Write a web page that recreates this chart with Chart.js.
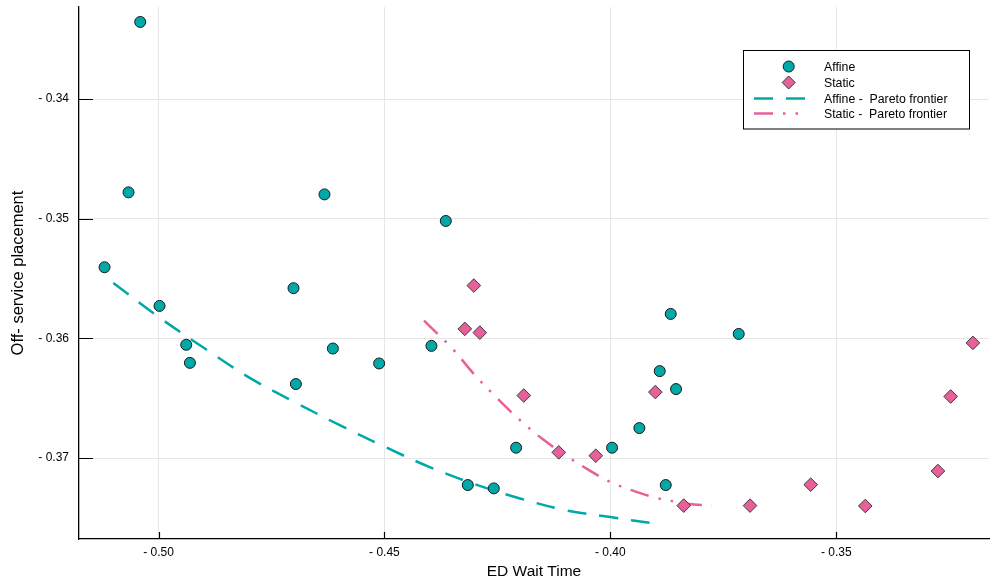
<!DOCTYPE html>
<html>
<head>
<meta charset="utf-8">
<script src="https://cdn.jsdelivr.net/npm/chart.js@4.4.0/dist/chart.umd.min.js"></script>
<style>
  html, body { margin: 0; padding: 0; background: #fff; }
  #wrap { width: 990px; height: 581px; }
</style>
</head>
<body>
<div id="wrap"><canvas id="paretoChart"></canvas></div>
<script>
// Affine policy results
const affineX = [-0.50405, -0.50664, -0.51195, -0.49978, -0.49387, -0.49305, -0.46327, -0.47013,
  -0.46142, -0.46960, -0.45117, -0.43642, -0.43960, -0.42086, -0.43155, -0.42580, -0.39962,
  -0.39358, -0.38907, -0.38664, -0.38546, -0.38774, -0.37159];
const affineY = [-0.33355, -0.34779, -0.35405, -0.35728, -0.36053, -0.36204, -0.34796, -0.35580,
  -0.36084, -0.36381, -0.36209, -0.35018, -0.36062, -0.36913, -0.37225, -0.37253, -0.36913,
  -0.36749, -0.36273, -0.35795, -0.36423, -0.37225, -0.35962];

// Static policy results
const staticX = [-0.43022, -0.43221, -0.42889, -0.41916, -0.41142, -0.40323, -0.39004, -0.38376,
  -0.36909, -0.35566, -0.34358, -0.32750, -0.32469, -0.31976];
const staticY = [-0.35558, -0.35920, -0.35951, -0.36477, -0.36952, -0.36980, -0.36448, -0.37397,
  -0.37397, -0.37222, -0.37400, -0.37108, -0.36485, -0.36037];

// Pareto frontiers
const affineFrontX = [-0.510, -0.500, -0.490, -0.480, -0.470, -0.460, -0.450, -0.440, -0.430,
  -0.420, -0.410, -0.400, -0.390];
const affineFrontY = [-0.35536, -0.35820, -0.36078, -0.36325, -0.36529, -0.36723, -0.36904,
  -0.37075, -0.37218, -0.37337, -0.37435, -0.37493, -0.37548];
const staticFrontX = [-0.44125, -0.435, -0.430, -0.425, -0.420, -0.415, -0.410, -0.405, -0.400,
  -0.395, -0.390, -0.385, -0.380, -0.3775];
const staticFrontY = [-0.35851, -0.36084, -0.36306, -0.36502, -0.36683, -0.36841, -0.36975,
  -0.37094, -0.37200, -0.37272, -0.37331, -0.37368, -0.37392, -0.37395];

const xTicks = [-0.50, -0.45, -0.40, -0.35];
const yTicks = [-0.37, -0.36, -0.35, -0.34];

const teal = '#00a8a8';
const pink = '#e8609a';

function pts(xs, ys) {
  return xs.map((x, i) => ({ x: x, y: ys[i] }));
}

function fmt(v) {
  return '- ' + Math.abs(v).toFixed(2);
}

// ticks point inward from the axes
const innerTicks = {
  id: 'innerTicks',
  afterDraw(chart) {
    const ctx = chart.ctx;
    const xs = chart.scales.x, ys = chart.scales.y;
    const area = chart.chartArea;
    ctx.save();
    ctx.strokeStyle = '#000';
    ctx.lineWidth = 1.2;
    ctx.beginPath();
    xTicks.forEach(v => {
      const px = Math.round(xs.getPixelForValue(v)) + 0.5;
      ctx.moveTo(px, area.bottom);
      ctx.lineTo(px, area.bottom - 7);
    });
    yTicks.forEach(v => {
      const py = Math.round(ys.getPixelForValue(v)) + 0.5;
      ctx.moveTo(area.left, py);
      ctx.lineTo(area.left + 14, py);
    });
    ctx.stroke();
    ctx.restore();
  }
};

// boxed legend in the upper right
const boxLegend = {
  id: 'boxLegend',
  afterDraw(chart) {
    const ctx = chart.ctx;
    const bx = 743.5, by = 50.5, bw = 226, bh = 78.5;
    ctx.save();
    ctx.fillStyle = '#fff';
    ctx.fillRect(bx, by, bw, bh);
    ctx.strokeStyle = '#000';
    ctx.lineWidth = 1;
    ctx.strokeRect(bx, by, bw, bh);
    const rows = [66.5, 82.5, 98.5, 113.5];
    ctx.font = '12.3px "Liberation Sans", Arial, sans-serif';
    ctx.textBaseline = 'middle';
    chart.data.datasets.forEach((ds, i) => {
      const y = rows[i];
      if (ds.showLine) {
        ctx.beginPath();
        ctx.strokeStyle = ds.borderColor;
        ctx.lineWidth = ds.borderWidth;
        ctx.setLineDash(ds.borderDash);
        ctx.moveTo(754, y);
        ctx.lineTo(806, y);
        ctx.stroke();
        ctx.setLineDash([]);
      } else {
        ctx.fillStyle = ds.backgroundColor;
        ctx.strokeStyle = ds.borderColor;
        ctx.lineWidth = ds.borderWidth;
        ctx.beginPath();
        if (ds.pointStyle === 'rectRot') {
          const r = 6.5;
          ctx.moveTo(788.7 - r, y);
          ctx.lineTo(788.7, y - r);
          ctx.lineTo(788.7 + r, y);
          ctx.lineTo(788.7, y + r);
          ctx.closePath();
        } else {
          ctx.arc(788.7, y, 5.5, 0, Math.PI * 2);
        }
        ctx.fill();
        ctx.stroke();
      }
      ctx.fillStyle = '#000';
      ctx.fillText(ds.label, 824, y + 1);
    });
    ctx.restore();
  }
};

const ctx = document.getElementById('paretoChart').getContext('2d');
const paretoChart = new Chart(ctx, {
  type: 'scatter',
  data: {
    datasets: [{
      label: 'Affine',
      data: pts(affineX, affineY),
      pointStyle: 'circle',
      pointRadius: 5.5,
      backgroundColor: teal,
      borderColor: '#1a1a1a',
      borderWidth: 1
    }, {
      label: 'Static',
      data: pts(staticX, staticY),
      pointStyle: 'rectRot',
      pointRadius: 6.8,
      backgroundColor: pink,
      borderColor: '#3a3a3a',
      borderWidth: 1
    }, {
      label: 'Affine -  Pareto frontier',
      data: pts(affineFrontX, affineFrontY),
      showLine: true,
      pointRadius: 0,
      borderColor: teal,
      borderWidth: 2.5,
      borderDash: [19, 13],
      tension: 0.35
    }, {
      label: 'Static -  Pareto frontier',
      data: pts(staticFrontX, staticFrontY),
      showLine: true,
      pointRadius: 0,
      borderColor: pink,
      borderWidth: 2.5,
      borderDash: [19, 10, 2.5, 10, 2.5, 10],
      tension: 0.35
    }]
  },
  options: {
    responsive: true,
    maintainAspectRatio: false,
    animation: false,
    layout: { autoPadding: false, padding: { top: 7, right: 1, left: 0, bottom: 0 } },
    plugins: {
      legend: { display: false },
      tooltip: { enabled: false }
    },
    scales: {
      x: {
        type: 'linear',
        min: -0.5176,
        max: -0.3162,
        afterBuildTicks: s => { s.ticks = xTicks.map(v => ({ value: v })); },
        afterFit: s => { s.height = 42; s.paddingLeft = 0; s.paddingRight = 0; },
        grid: { color: '#e6e6e6', lineWidth: 1, drawTicks: false },
        border: { display: true, color: '#000', width: 1.3 },
        ticks: {
          padding: 6,
          color: '#000',
          font: { family: '"Liberation Sans", Arial, sans-serif', size: 12 },
          callback: v => fmt(v)
        },
        title: {
          display: true,
          text: 'ED Wait Time',
          color: '#000',
          padding: { top: 2, bottom: 0 },
          font: { family: '"Liberation Sans", Arial, sans-serif', size: 15.5 }
        }
      },
      y: {
        type: 'linear',
        min: -0.37676,
        max: -0.3323,
        afterBuildTicks: s => { s.ticks = yTicks.map(v => ({ value: v })); },
        afterFit: s => { s.width = 79; s.paddingTop = 0; s.paddingBottom = 0; },
        grid: { color: '#e6e6e6', lineWidth: 1, drawTicks: false },
        border: { display: true, color: '#000', width: 1.3 },
        ticks: {
          padding: 10,
          color: '#000',
          font: { family: '"Liberation Sans", Arial, sans-serif', size: 12 },
          callback: v => fmt(v)
        },
        title: {
          display: true,
          text: 'Off- service placement',
          color: '#000',
          padding: { top: 9, bottom: 0 },
          font: { family: '"Liberation Sans", Arial, sans-serif', size: 16.5 }
        }
      }
    }
  },
  plugins: [innerTicks, boxLegend]
});
</script>
</body>
</html>
